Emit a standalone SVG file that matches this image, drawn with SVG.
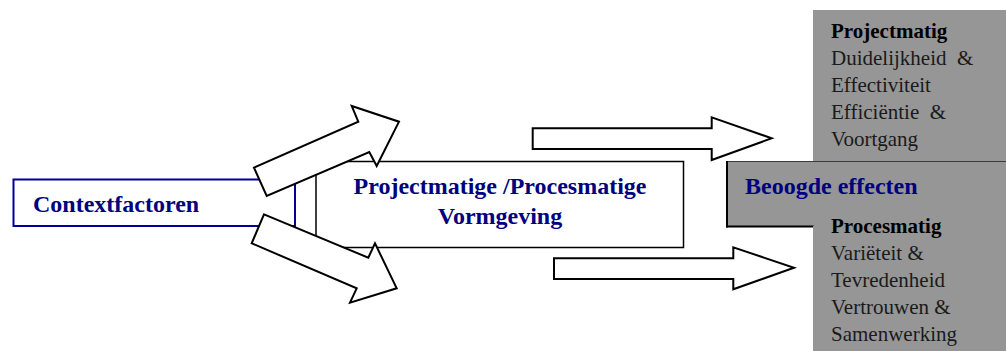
<svg xmlns="http://www.w3.org/2000/svg" width="1006" height="351" viewBox="0 0 1006 351">
<defs>
<style>
.lbl{font-family:"Liberation Serif","Times New Roman",serif;font-weight:bold;font-size:24px;fill:#000080}
.hd{font-family:"Liberation Serif","Times New Roman",serif;font-weight:bold;font-size:21px;fill:#000}
.tx{font-family:"Liberation Serif","Times New Roman",serif;font-size:21px;fill:#1a1a1a;white-space:pre}
.arrow{fill:#fff;stroke:#000;stroke-width:2;stroke-linejoin:miter}
.grey{fill:#969696}
</style>
</defs>
<rect width="1006" height="351" fill="#fff"/>
<g id="effects-column">
<rect class="grey" x="813" y="10" width="193" height="152"/>
<text class="hd" x="831" y="37.5">Projectmatig</text>
<text class="tx" x="831" y="64.5">Duidelijkheid  &amp;</text>
<text class="tx" x="831" y="91.5">Effectiviteit</text>
<text class="tx" x="831" y="118.5">Efficiëntie  &amp;</text>
<text class="tx" x="831" y="145.5">Voortgang</text>
</g>
<g id="beoogde-effecten">
<rect class="grey" x="727" y="161.5" width="285" height="65" stroke="#3a3a3a" stroke-width="1"/>
<line x1="727" y1="161" x2="727" y2="227.5" stroke="#000" stroke-width="2"/>
<line x1="726" y1="226.5" x2="814" y2="226.5" stroke="#000" stroke-width="2"/>
<text class="lbl" x="745" y="194">Beoogde effecten</text>
</g>
<g id="effects-procesmatig">
<rect class="grey" x="813" y="225.8" width="193" height="126"/>
<text class="hd" x="831" y="232.5">Procesmatig</text>
<text class="tx" x="831" y="259.5">Variëteit &amp;</text>
<text class="tx" x="831" y="286.5">Tevredenheid</text>
<text class="tx" x="831" y="313.5">Vertrouwen &amp;</text>
<text class="tx" x="831" y="340.5">Samenwerking</text>
</g>
<g id="contextfactoren">
<rect x="13.5" y="179.5" width="281.5" height="46.5" fill="#fff" stroke="#000099" stroke-width="2"/>
<text class="lbl" x="33" y="211.5">Contextfactoren</text>
</g>
<g id="vormgeving">
<rect x="316" y="161.5" width="367.5" height="86" fill="#fff" stroke="#000" stroke-width="1.5"/>
<text class="lbl" x="500" y="193.5" text-anchor="middle">Projectmatige /Procesmatige</text>
<text class="lbl" x="500" y="223.5" text-anchor="middle">Vormgeving</text>
</g>
<g id="connectors">
<polygon class="arrow" points="254,167.7 358.3,121.7 351.7,106 399,121.7 376.7,166 369.3,152 266.7,196"/>
<polygon class="arrow" points="264,214.3 368.3,257.7 375,243.3 396.7,288.3 350,302.7 356.7,288.3 251.7,243.3"/>
<polygon class="arrow" points="532.7,128.3 711.7,128.3 711.7,117.3 771.7,138.3 711.7,160 711.7,149 532.7,149"/>
<polygon class="arrow" points="554,258.3 733.3,258.3 733.3,247.3 794,267.7 733.3,289.3 733.3,279 554,279"/>
</g>
</svg>
